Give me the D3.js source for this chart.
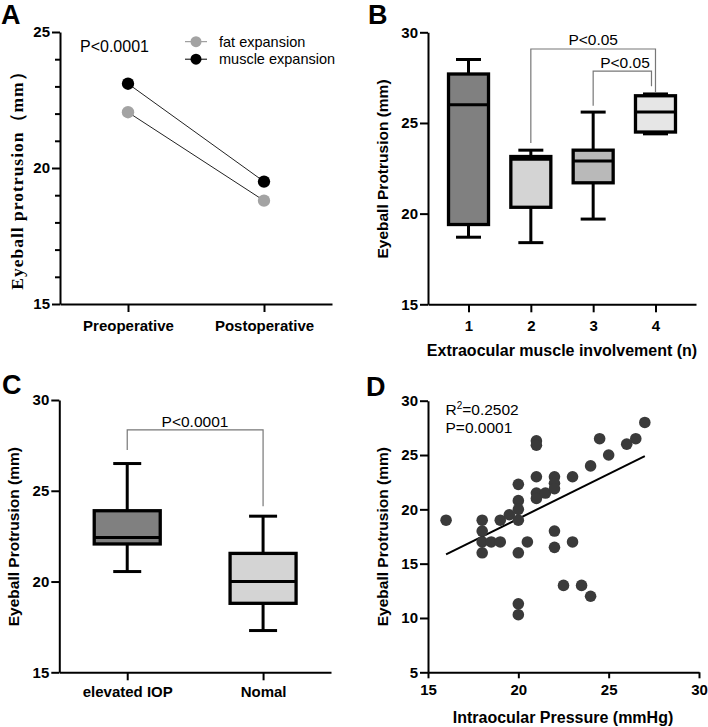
<!DOCTYPE html>
<html>
<head>
<meta charset="utf-8">
<script src="https://cdn.jsdelivr.net/npm/d3@7"></script>
<style>
  html, body { margin: 0; padding: 0; background: #fff; }
  svg { display: block; }
  text { font-family: "Liberation Sans", Arial, sans-serif; }
</style>
</head>
<body>
<svg id="fig" width="708" height="727"></svg>
<script>
// ---------------- DATA ----------------
// Panel A
const aCategories = ["Preoperative", "Postoperative"];
const aFat = [22.05, 18.8];
const aMuscle = [23.1, 19.5];
const aMajorTicks = [15, 20, 25];
const aMinorTicks = [16, 17, 18, 19, 21, 22, 23, 24];
const aSeriesNames = ["fat expansion", "muscle expansion"];

// Panel B
const bCategories = ["1", "2", "3", "4"];
const bMin    = [18.7, 18.4, 19.7, 24.4];
const bQ1     = [19.4, 20.35, 21.7, 24.5];
const bMedian = [26.0, 23.0, 22.9, 25.6];
const bQ3     = [27.7, 23.15, 23.5, 26.5];
const bMax    = [28.5, 23.5, 25.6, 26.6];
const bTicks  = [15, 20, 25, 30];

// Panel C
const cCategories = ["elevated IOP", "Nomal"];
const cMin    = [20.55, 17.3];
const cQ1     = [22.07, 18.8];
const cMedian = [22.43, 20.0];
const cQ3     = [23.9, 21.55];
const cMax    = [26.5, 23.6];
const cTicks  = [15, 20, 25, 30];

// Panel D
const dIOP = [16, 18, 18, 18, 18, 18.5, 19, 19, 19.5,
              20, 20, 20, 20, 20, 20, 20, 20.5,
              21, 21, 21, 21, 21, 21.5,
              22, 22, 22, 22, 22, 22.5, 23, 23, 23.5,
              24, 24, 24.5, 25, 26, 26.5, 27];
const dProtrusion = [19, 19, 18, 17, 16, 17, 17, 19, 19.5,
              22.3, 20.8, 20, 19, 16, 11.3, 10.3, 17,
              26.3, 25.9, 23, 21.5, 21, 21.5,
              23, 22.4, 21.9, 18, 16.5, 13, 23, 17, 13,
              12, 24, 26.5, 25, 26, 26.5, 28];
const dFitX = [16, 27];
const dFitY = [15.85, 24.9];
const dXTicks = [15, 20, 25, 30];
const dYTicks = [5, 10, 15, 20, 25, 30];

// ---------------- DRAW ----------------
const svg = d3.select("#fig");
const BOLD = "bold";

function styleAxis(g, fontSize) {
  g.selectAll("path.domain").attr("stroke", "#000").attr("stroke-width", 2);
  g.selectAll(".tick line").attr("stroke", "#000").attr("stroke-width", 2);
  g.selectAll(".tick text")
    .attr("fill", "#000")
    .style("font-family", '"Liberation Sans", Arial, sans-serif')
    .style("font-weight", BOLD)
    .style("font-size", fontSize + "px");
}

function panelLetter(x, y, t) {
  svg.append("text").attr("x", x).attr("y", y).text(t)
    .style("font-weight", "bold").style("font-size", "27px");
}

function yTitle(cx, cy, t, size, family, spacing) {
  const tx = svg.append("text")
    .attr("transform", `translate(${cx},${cy}) rotate(-90)`)
    .attr("text-anchor", "middle").attr("dy", "0.35em")
    .style("font-weight", "bold").style("font-size", size + "px")
    .style("font-family", family || '"Liberation Sans", Arial, sans-serif')
    .text(t);
  if (spacing) tx.style("letter-spacing", spacing + "px");
}

// ===== Panel A =====
(function () {
  const x = d3.scalePoint().domain(aCategories).range([60, 332]).padding(0.5);
  const y = d3.scaleLinear().domain([15, 25]).range([304, 32]);
  const g = svg.append("g");

  const gy = g.append("g").attr("transform", "translate(60,0)")
    .call(d3.axisLeft(y).tickValues(aMajorTicks).tickSize(8).tickPadding(2).tickSizeOuter(0));
  styleAxis(gy, 15);
  const gm = g.append("g").attr("transform", "translate(60,0)")
    .call(d3.axisLeft(y).tickValues(aMinorTicks).tickSize(5).tickFormat("").tickSizeOuter(0));
  gm.select("path.domain").remove();
  gm.selectAll(".tick line").attr("stroke", "#000").attr("stroke-width", 2);

  const gx = g.append("g").attr("transform", "translate(0,304)")
    .call(d3.axisBottom(x).tickSize(8).tickPadding(8).tickSizeOuter(0));
  styleAxis(gx, 15);

  const series = [
    { name: aSeriesNames[0], vals: aFat, color: "#a3a3a3" },
    { name: aSeriesNames[1], vals: aMuscle, color: "#000000" }
  ];
  const line = d3.line().x((d, i) => x(aCategories[i])).y(d => y(d));
  series.forEach(s => {
    g.append("path").attr("d", line(s.vals)).attr("fill", "none")
      .attr("stroke", "#222").attr("stroke-width", 1);
    g.selectAll(null).data(s.vals).enter().append("circle")
      .attr("cx", (d, i) => x(aCategories[i])).attr("cy", d => y(d))
      .attr("r", 6.2).attr("fill", s.color);
  });

  // legend
  series.forEach((s, i) => {
    const ly = 41.7 + i * 17.5;
    g.append("line").attr("x1", 185).attr("x2", 207).attr("y1", ly).attr("y2", ly)
      .attr("stroke", s.color === "#000000" ? "#000" : "#8a8a8a").attr("stroke-width", 1);
    g.append("circle").attr("cx", 196).attr("cy", ly).attr("r", 5.5).attr("fill", s.color);
    g.append("text").attr("x", 219).attr("y", ly).attr("dy", "0.35em")
      .style("font-size", "14.5px").text(s.name);
  });

  g.append("text").attr("x", 80).attr("y", 51.5).style("font-size", "16px").text("P<0.0001");

  yTitle(17, 176, "Eyeball protrusion（mm）", 17.5, '"Liberation Serif", "Times New Roman", serif', 1.0);
  panelLetter(1, 23.5, "A");
})();

// ===== Box plot helper =====
function boxPlot(g, x, y, cats, mn, q1, md, q3, mx, fills, boxW, capW) {
  cats.forEach((c, i) => {
    const cx = x(c);
    g.append("line").attr("x1", cx).attr("x2", cx).attr("y1", y(mx[i])).attr("y2", y(q3[i]))
      .attr("stroke", "#000").attr("stroke-width", 3);
    g.append("line").attr("x1", cx).attr("x2", cx).attr("y1", y(q1[i])).attr("y2", y(mn[i]))
      .attr("stroke", "#000").attr("stroke-width", 3);
    [mx[i], mn[i]].forEach(v => {
      g.append("line").attr("x1", cx - capW / 2).attr("x2", cx + capW / 2)
        .attr("y1", y(v)).attr("y2", y(v)).attr("stroke", "#000").attr("stroke-width", 3);
    });
    g.append("rect").attr("x", cx - boxW / 2).attr("width", boxW)
      .attr("y", y(q3[i])).attr("height", y(q1[i]) - y(q3[i]))
      .attr("fill", fills[i]).attr("stroke", "#000").attr("stroke-width", 3.3);
    g.append("line").attr("x1", cx - boxW / 2).attr("x2", cx + boxW / 2)
      .attr("y1", y(md[i])).attr("y2", y(md[i])).attr("stroke", "#000").attr("stroke-width", 3);
  });
}

function bracket(g, x1, x2, yTop, yL, yR, label, labelX, labelY) {
  g.append("path")
    .attr("d", `M${x1},${yL}V${yTop}H${x2}V${yR}`)
    .attr("fill", "none").attr("stroke", "#777").attr("stroke-width", 1.2);
  g.append("text").attr("x", labelX).attr("y", labelY).attr("text-anchor", "middle")
    .style("font-size", "15.5px").text(label);
}

// ===== Panel B =====
(function () {
  const x = d3.scalePoint().domain(bCategories).range([428, 696]).padding(0.65);
  const y = d3.scaleLinear().domain([15, 30]).range([304.3, 32.3]);
  const g = svg.append("g");

  const gy = g.append("g").attr("transform", "translate(428,0)")
    .call(d3.axisLeft(y).tickValues(bTicks).tickSize(8).tickPadding(2).tickSizeOuter(0));
  styleAxis(gy, 15);
  const gx = g.append("g").attr("transform", "translate(0,304.3)")
    .call(d3.axisBottom(x).tickSize(8).tickPadding(8).tickSizeOuter(0));
  styleAxis(gx, 15);

  boxPlot(g, x, y, bCategories, bMin, bQ1, bMedian, bQ3, bMax,
    ["#808080", "#d4d4d4", "#b9b9b9", "#e6e6e6"], 40, 25);

  bracket(g, x("2"), x("4"), y(29.08), y(23.9), y(26.7), "P<0.05", (x("2") + x("4")) / 2, 45);
  bracket(g, x("3"), x("4") - 4, y(27.86), y(25.95), y(27.03), "P<0.05", 625, 68.3);

  svg.append("text").attr("x", 562).attr("y", 356).attr("text-anchor", "middle")
    .style("font-weight", "bold").style("font-size", "16px")
    .text("Extraocular muscle involvement (n)");
  yTitle(383, 169, "Eyeball Protrusion (mm)", 15.5);
  panelLetter(368, 23.5, "B");
})();

// ===== Panel C =====
(function () {
  const x = d3.scalePoint().domain(cCategories).range([59.3, 331]).padding(0.5);
  const y = d3.scaleLinear().domain([15, 30]).range([672.3, 400]);
  const g = svg.append("g");

  const gy = g.append("g").attr("transform", "translate(59.3,0)")
    .call(d3.axisLeft(y).tickValues(cTicks).tickSize(8).tickPadding(2).tickSizeOuter(0));
  styleAxis(gy, 15);
  const gx = g.append("g").attr("transform", "translate(0,672.3)")
    .call(d3.axisBottom(x).tickSize(8).tickPadding(6).tickSizeOuter(0));
  styleAxis(gx, 15);

  boxPlot(g, x, y, cCategories, cMin, cQ1, cMedian, cQ3, cMax,
    ["#808080", "#d4d4d4"], 66, 28);

  bracket(g, x(cCategories[0]), x(cCategories[1]), y(28.35), y(27.25), y(24.15),
    "P<0.0001", 195, 426.7);

  yTitle(13.5, 536.7, "Eyeball Protrusion (mm)", 15.5);
  panelLetter(2, 393.5, "C");
})();

// ===== Panel D =====
(function () {
  const x = d3.scaleLinear().domain([15, 30]).range([428, 699]);
  const y = d3.scaleLinear().domain([5, 30]).range([672.3, 400.7]);
  const g = svg.append("g");

  const gy = g.append("g").attr("transform", "translate(428,0)")
    .call(d3.axisLeft(y).tickValues(dYTicks).tickSize(8).tickPadding(2).tickSizeOuter(0));
  styleAxis(gy, 15);
  const gx = g.append("g").attr("transform", "translate(0,672.3)")
    .call(d3.axisBottom(x).tickValues(dXTicks).tickSize(6).tickPadding(6).tickSizeOuter(0));
  styleAxis(gx, 15);

  g.append("line")
    .attr("x1", x(dFitX[0])).attr("y1", y(dFitY[0]))
    .attr("x2", x(dFitX[1])).attr("y2", y(dFitY[1]))
    .attr("stroke", "#000").attr("stroke-width", 2);

  g.selectAll(null).data(dIOP).enter().append("circle")
    .attr("cx", d => x(d)).attr("cy", (d, i) => y(dProtrusion[i]))
    .attr("r", 5.8).attr("fill", "#3a3a3a");

  const t1 = g.append("text").attr("x", 445.5).attr("y", 415).style("font-size", "15.5px");
  t1.append("tspan").text("R");
  t1.append("tspan").attr("dy", "-6").style("font-size", "10px").text("2");
  t1.append("tspan").attr("dy", "6").text("=0.2502");
  g.append("text").attr("x", 445.5).attr("y", 433.3).style("font-size", "15.5px").text("P=0.0001");

  svg.append("text").attr("x", 563).attr("y", 722.5).attr("text-anchor", "middle")
    .style("font-weight", "bold").style("font-size", "16px")
    .text("Intraocular Pressure (mmHg)");
  yTitle(383, 536.7, "Eyeball Protrusion (mm)", 15.5);
  panelLetter(366, 395.5, "D");
})();
</script>
</body>
</html>
